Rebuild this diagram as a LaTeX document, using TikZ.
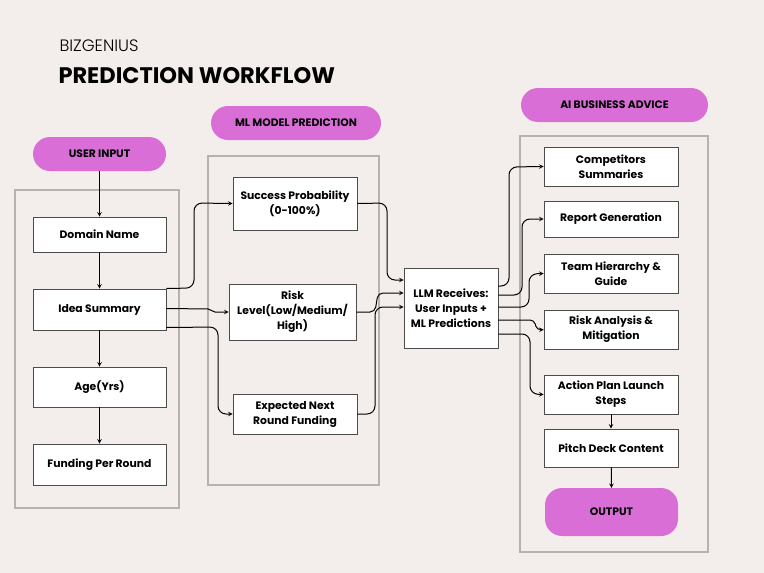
\documentclass[tikz,border=0pt]{standalone}
\usepackage{fontspec}
\setmainfont{Poppins}
\newfontfamily\light{Poppins Light}
\usetikzlibrary{calc}
\definecolor{bg}{HTML}{F3EEEB}
\definecolor{pill}{HTML}{D96FD6}
\definecolor{frame}{HTML}{B5B3B1}
\begin{document}
\begin{tikzpicture}[x=1pt,y=-1pt,
  box/.style={draw=black!70,line width=0.8pt,fill=white,align=center,font=\fontsize{10.8}{15}\selectfont\bfseries,inner sep=2pt},
  pl/.style={fill=pill,rounded corners=17pt},
  pt/.style={font=\fontsize{10.8}{13}\selectfont\bfseries},
  fr/.style={draw=frame,line width=2.2pt},
  conn/.style={->,>=stealth,line width=1pt,rounded corners=8pt},
  ar/.style={->,>=stealth,line width=1pt}]
\fill[bg] (0,0) rectangle (764,573);
\node[anchor=west,font=\fontsize{16.5}{18}\selectfont\light] (t1) at (56,46) {BIZGENIUS};
\node[anchor=west,font=\fontsize{22.5}{24}\selectfont\bfseries] (t2) at (55,76) {PREDICTION WORKFLOW};
% frames
\draw[fr] (15,190) rectangle (179,508);
\draw[fr] (208,156) rectangle (379,485);
\draw[fr] (520,136) rectangle (708,552);
% pills
\path[pl] (33,137) rectangle (166,171); \node[pt] (p1) at (99.5,154) {USER INPUT};
\path[pl] (211,106) rectangle (381,140); \node[pt] (p2) at (296,123) {ML MODEL PREDICTION};
\path[pl] (521,88) rectangle (708,122); \node[pt] (p3) at (614.5,105) {AI BUSINESS ADVICE};
% left
\node[box,minimum width=133pt,minimum height=35pt] (dn) at (99.5,234.5) {Domain Name};
\node[box,minimum width=133pt,minimum height=41pt] (is) at (99.5,309.5) {Idea Summary};
\node[box,minimum width=133pt,minimum height=40pt] (ag) at (99.5,387) {Age(Yrs)};
\node[box,minimum width=133pt,minimum height=41pt] (fp) at (99.5,464.5) {Funding Per Round};
\draw[ar] (99.5,171) -- (dn.north);
\draw[ar] (dn) -- (is); \draw[ar] (is) -- (ag); \draw[ar] (ag) -- (fp);
% middle
\node[box,minimum width=124pt,minimum height=53pt] (sp) at (295,203.5) {Success Probability\\(0-100\%)};
\node[box,minimum width=127pt,minimum height=56pt] (rl) at (292.5,312) {Risk\\Level(Low/Medium/\\High)};
\node[box,minimum width=124pt,minimum height=40pt] (en) at (295,414) {Expected Next\\Round Funding};
\node[box,minimum width=94pt,minimum height=80pt] (llm) at (451,308) {LLM Receives:\\User Inputs +\\ML Predictions};
% right
\node[box,minimum width=134pt,minimum height=39pt] (c1) at (611,166.5) {Competitors\\Summaries};
\node[box,minimum width=134pt,minimum height=36pt] (c2) at (611,219) {Report Generation};
\node[box,minimum width=134pt,minimum height=39pt] (c3) at (611,273.5) {Team Hierarchy \&\\Guide};
\node[box,minimum width=134pt,minimum height=39pt] (c4) at (611,329.5) {Risk Analysis \&\\Mitigation};
\node[box,minimum width=134pt,minimum height=39pt] (c5) at (611,394.5) {Action Plan Launch\\Steps};
\node[box,minimum width=134pt,minimum height=38pt] (c6) at (611,448) {Pitch Deck Content};
\path[pl] (545,488) rectangle (678,536); \node[pt] (out) at (611.5,512) {OUTPUT};
\coordinate (outn) at (611.5,488);
\draw[ar] (c5) -- (c6); \draw[ar] (c6) -- (outn);
% connectors left->middle
\draw[conn] ($(is.east)+(0,-21)$) -- (194,288) -- (194,203) -- (sp.west);
\draw[conn,rounded corners=2pt] ($(is.east)+(0,-1)$) -- (210,309) -- (213,312) -- (rl.west);
\draw[conn] ($(is.east)+(0,18)$) -- (218,327) -- (218,414) -- (en.west);
% middle -> llm
\draw[conn] (sp.east) -- (387,203) -- (387,280) -- ($(llm.west)+(0,-28)$);
\draw[conn,rounded corners=5pt] (rl.east) -- (375,312) -- (378,293) -- ($(llm.west)+(0,-15)$);
\draw[conn] (en.east) -- (375,414) -- (375,307) -- ($(llm.west)+(0,-1)$);
% llm -> right
\draw[conn] ($(llm.east)+(0,-22)$) -- (509,286) -- (509,167) -- (c1.west);
\draw[conn] ($(llm.east)+(0,-13)$) -- (522,295) -- (522,219) -- (c2.west);
\draw[conn] ($(llm.east)+(0,-1)$) -- (529,307) -- (529,274) -- (c3.west);
\draw[conn,rounded corners=4pt] ($(llm.east)+(0,12)$) -- (534,320) -- (537,330) -- (c4.west);
\draw[conn] ($(llm.east)+(0,26)$) -- (530,334) -- (530,394) -- (c5.west);
\end{tikzpicture}
\end{document}
